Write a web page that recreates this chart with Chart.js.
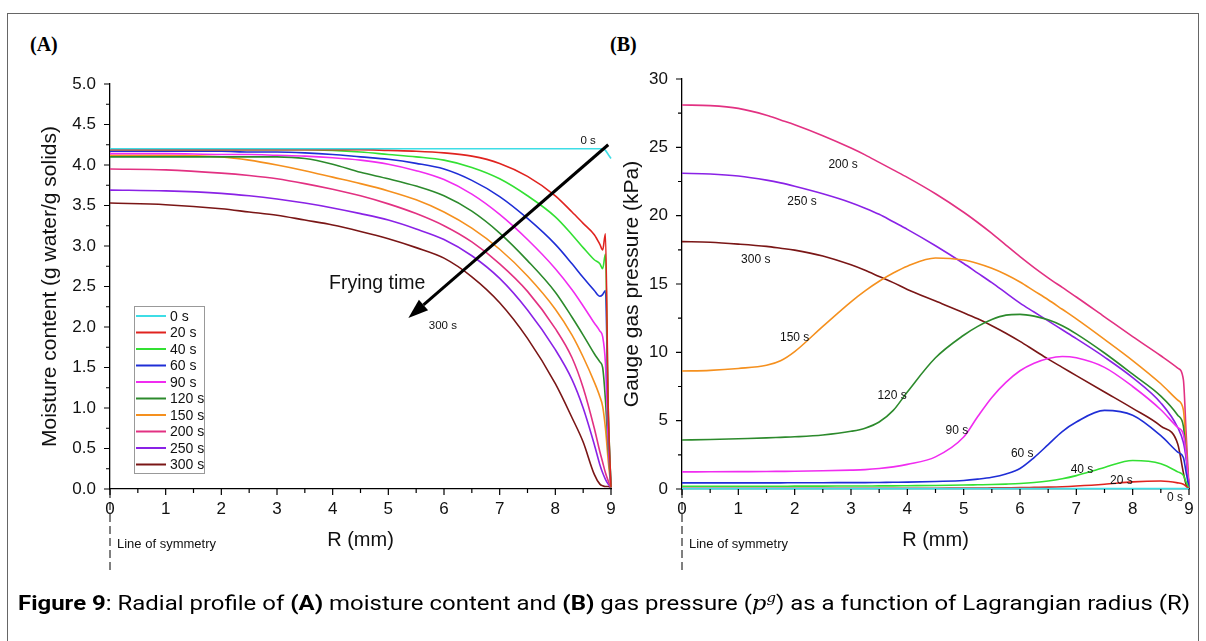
<!DOCTYPE html>
<html>
<head>
<meta charset="utf-8">
<script src="https://cdn.jsdelivr.net/npm/chart.js@4.4.1/dist/chart.umd.min.js"></script>
<style>
  html, body { margin: 0; padding: 0; background: #fff; }
  body { width: 1206px; height: 641px; position: relative; overflow: hidden; }
  #frame { position: absolute; left: 7px; top: 13px; width: 1192px; height: 700px; border: 1.5px solid #666; box-sizing: border-box; }
  .tag { position: absolute; top: 33px; font-family: "Liberation Serif", "Times New Roman", serif; font-weight: bold; font-size: 20px; color: #000; }
  canvas { position: absolute; top: 0; }
  #chartA { left: 0; }
  #chartB { left: 600px; }
  #caption { position: absolute; left: 18px; top: 590px; font-family: Roboto, "Liberation Sans", sans-serif; font-size: 21px; line-height: 26px; height: 26px; white-space: nowrap; color: #000; transform-origin: left center; }
  #caption b { font-weight: 700; }
  #caption .m { font-family: "DejaVu Serif", "Liberation Serif", serif; font-style: italic; font-size: 20px; }
  #caption sup { font-size: 13px; line-height: 0; vertical-align: 8px; }
</style>
</head>
<body>
<div id="frame"></div>
<div class="tag" style="left:30px">(A)</div>
<div class="tag" style="left:610px">(B)</div>
<canvas id="chartA" width="640" height="641"></canvas>
<canvas id="chartB" width="606" height="641"></canvas>
<div id="caption"><b>Figure 9</b>: Radial profile of <b>(A)</b> moisture content and <b>(B)</b> gas pressure (<span class="m">p<sup>g</sup></span>) as a function of Lagrangian radius (R)</div>

<script>
// ---- data ----
const timeLabels = ['0 s', '20 s', '40 s', '60 s', '90 s', '120 s', '150 s', '200 s', '250 s', '300 s'];
const seriesColors = ['#3EDDE6', '#E0231F', '#33E033', '#1F2ED6', '#F02CF0', '#2C8A2C', '#F5901E', '#E23182', '#8A22E6', '#7A1616'];

const rTicks = [0, 1, 2, 3, 4, 5, 6, 7, 8, 9];
const moistTicks = [0, 0.5, 1, 1.5, 2, 2.5, 3, 3.5, 4, 4.5, 5];
const presTicks = [0, 5, 10, 15, 20, 25, 30];

// (A) moisture content, g water / g solids
const radiusA = [0, 1, 2, 2.5, 3, 3.5, 4, 4.5, 5, 5.5, 6, 6.5, 7, 7.5, 8, 8.3, 8.5, 8.7, 8.8, 8.85, 8.9, 8.95, 9];
const moist0   = [4.20, 4.20, 4.20, 4.20, 4.20, 4.20, 4.20, 4.20, 4.20, 4.20, 4.20, 4.20, 4.20, 4.20, 4.20, 4.20, 4.20, 4.20, 4.20, 4.20, 4.18, 4.13, 4.08];
const moist20  = [4.19, 4.19, 4.19, 4.19, 4.19, 4.19, 4.19, 4.19, 4.18, 4.17, 4.15, 4.11, 4.02, 3.86, 3.62, 3.42, 3.28, 3.14, 3.02, 2.95, 3.15, 1.00, 0.02];
const moist40  = [4.19, 4.19, 4.19, 4.19, 4.19, 4.19, 4.18, 4.16, 4.13, 4.10, 4.06, 3.97, 3.83, 3.62, 3.36, 3.14, 2.98, 2.83, 2.78, 2.72, 2.90, 1.00, 0.02];
const moist60  = [4.17, 4.17, 4.17, 4.16, 4.16, 4.15, 4.13, 4.10, 4.07, 4.02, 3.95, 3.81, 3.61, 3.34, 3.02, 2.78, 2.61, 2.45, 2.38, 2.40, 2.45, 0.90, 0.02];
const moist90  = [4.14, 4.14, 4.13, 4.13, 4.12, 4.11, 4.09, 4.06, 4.01, 3.93, 3.82, 3.64, 3.39, 3.08, 2.72, 2.46, 2.26, 2.05, 1.95, 1.88, 1.55, 0.60, 0.02];
const moist120 = [4.10, 4.10, 4.10, 4.10, 4.10, 4.08, 4.01, 3.91, 3.83, 3.74, 3.62, 3.43, 3.16, 2.82, 2.43, 2.12, 1.90, 1.67, 1.57, 1.50, 1.10, 0.50, 0.02];
const moist150 = [4.12, 4.12, 4.10, 4.06, 4.00, 3.93, 3.85, 3.77, 3.68, 3.57, 3.42, 3.22, 2.96, 2.63, 2.22, 1.90, 1.63, 1.32, 1.14, 1.02, 0.75, 0.35, 0.02];
const moist200 = [3.95, 3.94, 3.90, 3.87, 3.83, 3.77, 3.70, 3.62, 3.52, 3.40, 3.25, 3.05, 2.78, 2.44, 1.98, 1.62, 1.25, 0.75, 0.46, 0.33, 0.20, 0.10, 0.02];
const moist250 = [3.69, 3.68, 3.65, 3.62, 3.58, 3.53, 3.47, 3.40, 3.32, 3.21, 3.08, 2.88, 2.60, 2.21, 1.72, 1.35, 1.00, 0.55, 0.30, 0.20, 0.12, 0.06, 0.02];
const moist300 = [3.53, 3.51, 3.46, 3.42, 3.38, 3.32, 3.26, 3.18, 3.09, 2.98, 2.85, 2.62, 2.30, 1.86, 1.30, 0.88, 0.58, 0.18, 0.06, 0.04, 0.03, 0.03, 0.02];

// (B) gauge gas pressure, kPa
const radiusB = [0, 0.5, 1, 1.5, 1.75, 2, 2.5, 3, 3.25, 3.5, 3.75, 4, 4.5, 5, 5.25, 5.5, 5.75, 6, 6.25, 6.5, 6.75, 7, 7.5, 8, 8.5, 8.8, 8.9, 8.95, 9];
const pres0   = [0.03, 0.03, 0.03, 0.03, 0.03, 0.03, 0.03, 0.03, 0.03, 0.03, 0.03, 0.03, 0.03, 0.03, 0.03, 0.03, 0.03, 0.03, 0.03, 0.03, 0.03, 0.03, 0.03, 0.03, 0.03, 0.03, 0.03, 0.03, 0.00];
const pres20  = [0.06, 0.06, 0.06, 0.06, 0.06, 0.06, 0.06, 0.06, 0.06, 0.06, 0.06, 0.06, 0.06, 0.07, 0.07, 0.08, 0.09, 0.10, 0.12, 0.14, 0.17, 0.22, 0.35, 0.52, 0.58, 0.45, 0.35, 0.20, 0.02];
const pres40  = [0.20, 0.20, 0.20, 0.20, 0.20, 0.21, 0.21, 0.22, 0.22, 0.23, 0.23, 0.24, 0.26, 0.29, 0.31, 0.33, 0.36, 0.40, 0.47, 0.58, 0.75, 0.98, 1.58, 2.08, 1.85, 1.25, 1.00, 0.50, 0.05];
const pres60  = [0.45, 0.45, 0.45, 0.45, 0.45, 0.46, 0.46, 0.47, 0.47, 0.48, 0.49, 0.50, 0.55, 0.62, 0.72, 0.86, 1.10, 1.50, 2.30, 3.25, 4.20, 4.90, 5.75, 5.40, 3.90, 2.70, 2.30, 1.20, 0.10];
const pres90  = [1.25, 1.26, 1.27, 1.28, 1.29, 1.30, 1.33, 1.38, 1.42, 1.50, 1.62, 1.80, 2.35, 3.80, 5.30, 6.70, 7.80, 8.65, 9.20, 9.55, 9.70, 9.60, 8.90, 7.50, 5.80, 4.50, 4.00, 2.50, 0.10];
const pres120 = [3.58, 3.62, 3.68, 3.74, 3.78, 3.82, 3.95, 4.22, 4.45, 4.90, 5.75, 7.10, 9.60, 11.25, 11.90, 12.40, 12.72, 12.78, 12.65, 12.38, 11.95, 11.35, 9.95, 8.40, 6.80, 5.40, 4.60, 2.50, 0.10];
const pres150 = [8.63, 8.68, 8.82, 9.05, 9.38, 10.05, 11.90, 13.70, 14.50, 15.20, 15.80, 16.30, 16.90, 16.75, 16.50, 16.15, 15.70, 15.15, 14.50, 13.85, 13.15, 12.45, 10.95, 9.40, 7.70, 6.50, 5.80, 3.00, 0.10];
const pres200 = [28.10, 28.05, 27.85, 27.35, 27.00, 26.65, 25.85, 24.95, 24.45, 23.90, 23.35, 22.80, 21.60, 20.25, 19.50, 18.70, 17.85, 17.00, 16.20, 15.45, 14.75, 14.05, 12.60, 11.15, 9.75, 8.85, 8.00, 4.00, 0.10];
const pres250 = [23.10, 23.05, 22.90, 22.60, 22.40, 22.15, 21.60, 20.95, 20.55, 20.10, 19.55, 19.00, 17.80, 16.50, 15.80, 15.10, 14.35, 13.60, 12.95, 12.30, 11.65, 11.00, 9.65, 8.15, 6.30, 4.50, 3.40, 2.20, 0.30];
const pres300 = [18.10, 18.05, 17.92, 17.75, 17.62, 17.48, 17.05, 16.40, 16.00, 15.55, 15.10, 14.60, 13.75, 12.90, 12.45, 11.95, 11.40, 10.80, 10.15, 9.50, 8.90, 8.30, 7.10, 5.90, 4.60, 3.30, 1.20, 0.30, 0.10];

// ---- drawing ----
const FONT = '"Liberation Sans", Arial, sans-serif';
const INK = '#111';

// outward major + minor ticks, Origin style
const tickMarks = {
  id: 'tickMarks',
  afterDraw(chart, args, o) {
    const { ctx, chartArea: { left, bottom }, scales: { x, y } } = chart;
    ctx.save();
    ctx.strokeStyle = '#000';
    ctx.lineWidth = 1.2;
    ctx.beginPath();
    for (let v = x.min; v <= x.max + 1e-9; v += o.xMinor) {
      const px = x.getPixelForValue(v);
      const major = Math.abs(v / o.xMajor - Math.round(v / o.xMajor)) < 1e-6;
      ctx.moveTo(px, bottom);
      ctx.lineTo(px, bottom + (major ? 6 : 4));
    }
    for (let v = y.min; v <= y.max + 1e-9; v += o.yMinor) {
      const py = y.getPixelForValue(v);
      const major = Math.abs(v / o.yMajor - Math.round(v / o.yMajor)) < 1e-6;
      ctx.moveTo(left, py);
      ctx.lineTo(left - (major ? 6 : 4), py);
    }
    ctx.stroke();
    ctx.restore();
  }
};

// dashed line of symmetry at R = 0
const symmetry = {
  id: 'symmetry',
  afterDraw(chart) {
    const { ctx, chartArea: { bottom }, scales: { x } } = chart;
    const px = x.getPixelForValue(0);
    ctx.save();
    ctx.strokeStyle = '#000';
    ctx.lineWidth = 1;
    ctx.setLineDash([8, 4]);
    ctx.beginPath();
    ctx.moveTo(px, bottom + 1);
    ctx.lineTo(px, bottom + 82);
    ctx.stroke();
    ctx.fillStyle = INK;
    ctx.font = '13px ' + FONT;
    ctx.textBaseline = 'middle';
    ctx.fillText('Line of symmetry', px + 7, bottom + 55);
    ctx.restore();
  }
};

// text labels placed in data units
const notes = {
  id: 'notes',
  afterDatasetsDraw(chart, args, o) {
    const { ctx, scales: { x, y } } = chart;
    ctx.save();
    ctx.fillStyle = INK;
    ctx.textAlign = 'center';
    ctx.textBaseline = 'middle';
    (o.items || []).forEach(n => {
      ctx.font = (n.size || 12) + 'px ' + FONT;
      ctx.fillText(n.text, x.getPixelForValue(n.r), y.getPixelForValue(n.v));
    });
    if (o.arrow) {
      const a = o.arrow;
      const x0 = x.getPixelForValue(a.from[0]), y0 = y.getPixelForValue(a.from[1]);
      const x1 = x.getPixelForValue(a.to[0]), y1 = y.getPixelForValue(a.to[1]);
      const ang = Math.atan2(y1 - y0, x1 - x0);
      const hl = 20, hw = 7;
      const bx = x1 - hl * Math.cos(ang), by = y1 - hl * Math.sin(ang);
      ctx.strokeStyle = '#000';
      ctx.lineWidth = 3;
      ctx.beginPath();
      ctx.moveTo(x0, y0);
      ctx.lineTo(bx, by);
      ctx.stroke();
      ctx.fillStyle = '#000';
      ctx.beginPath();
      ctx.moveTo(x1, y1);
      ctx.lineTo(bx + hw * Math.sin(ang), by - hw * Math.cos(ang));
      ctx.lineTo(bx - hw * Math.sin(ang), by + hw * Math.cos(ang));
      ctx.closePath();
      ctx.fill();
    }
    ctx.restore();
  }
};

// boxed legend inside panel A
const boxLegend = {
  id: 'boxLegend',
  afterDraw(chart, args, o) {
    if (!o.show) return;
    const { ctx, chartArea: { left } } = chart;
    const bx = left + o.dx, by = o.top, rowH = 16.5;
    const n = chart.data.datasets.length;
    ctx.save();
    ctx.fillStyle = '#fff';
    ctx.fillRect(bx, by, 70, n * rowH + 2);
    ctx.strokeStyle = '#999';
    ctx.lineWidth = 1;
    ctx.strokeRect(bx + 0.5, by + 0.5, 70, n * rowH + 2);
    ctx.font = '14px ' + FONT;
    ctx.textBaseline = 'middle';
    chart.data.datasets.forEach((ds, i) => {
      const cy = by + 10 + i * rowH;
      ctx.strokeStyle = ds.borderColor;
      ctx.lineWidth = 2;
      ctx.beginPath();
      ctx.moveTo(bx + 2, cy);
      ctx.lineTo(bx + 32, cy);
      ctx.stroke();
      ctx.fillStyle = INK;
      ctx.fillText(ds.label, bx + 36, cy + 1);
    });
    ctx.restore();
  }
};

function buildChart(id, cfg) {
  return new Chart(document.getElementById(id), {
    type: 'line',
    data: {
      datasets: cfg.series.map((vals, i) => ({
        label: timeLabels[i],
        data: cfg.radius.map((r, k) => ({ x: r, y: vals[k] })),
        borderColor: seriesColors[i],
        borderWidth: 1.6,
        pointRadius: 0,
        cubicInterpolationMode: 'monotone',
        clip: 4
      }))
    },
    options: {
      responsive: false,
      animation: false,
      events: [],
      layout: { padding: cfg.padding },
      plugins: {
        legend: { display: false },
        tooltip: { enabled: false },
        tickMarks: cfg.ticks,
        notes: cfg.notes,
        boxLegend: { show: cfg.legend, dx: 24, top: 306 }
      },
      scales: {
        x: {
          type: 'linear', min: 0, max: 9,
          afterBuildTicks: s => { s.ticks = rTicks.map(v => ({ value: v })); },
          afterFit: s => { s.height = 70; },
          grid: { drawOnChartArea: false, drawTicks: false },
          border: { color: '#000', width: 1.3 },
          ticks: { color: INK, font: { family: FONT, size: 17 }, padding: 10, maxRotation: 0 },
          title: { display: true, text: 'R (mm)', color: INK, font: { family: FONT, size: 20 }, padding: { top: 0, bottom: 7 } }
        },
        y: {
          min: 0, max: cfg.yMax,
          afterBuildTicks: s => { s.ticks = cfg.yTicks.map(v => ({ value: v })); },
          afterFit: s => { s.width = cfg.yWidth; },
          grid: { drawOnChartArea: false, drawTicks: false },
          border: { color: '#000', width: 1.3 },
          ticks: { color: INK, font: { family: FONT, size: 17 }, padding: 14, callback: cfg.yFormat },
          title: { display: true, text: cfg.yTitle, color: INK, font: { family: FONT, size: 21 }, padding: { top: cfg.titlePad, bottom: 0 } }
        }
      }
    },
    plugins: [tickMarks, symmetry, notes, boxLegend]
  });
}

buildChart('chartA', {
  radius: radiusA,
  series: [moist0, moist20, moist40, moist60, moist90, moist120, moist150, moist200, moist250, moist300],
  padding: { left: 0, top: 84, right: 29, bottom: 82 },
  yWidth: 110, yMax: 5, yTicks: moistTicks, titlePad: 38,
  yFormat: v => v.toFixed(1),
  yTitle: 'Moisture content (g water/g solids)',
  ticks: { xMinor: 0.5, xMajor: 1, yMinor: 0.25, yMajor: 0.5 },
  legend: true,
  notes: {
    items: [
      { text: '0 s', r: 8.59, v: 4.30, size: 11.5 },
      { text: '300 s', r: 5.98, v: 2.01, size: 11.5 },
      { text: 'Frying time', r: 4.8, v: 2.54, size: 19.5 }
    ],
    arrow: { from: [8.95, 4.25], to: [5.36, 2.11] }
  }
});

buildChart('chartB', {
  radius: radiusB,
  series: [pres0, pres20, pres40, pres60, pres90, pres120, pres150, pres200, pres250, pres300],
  padding: { left: 0, top: 79, right: 17, bottom: 82 },
  yWidth: 82, yMax: 30, yTicks: presTicks, titlePad: 20,
  yFormat: v => String(v),
  yTitle: 'Gauge gas pressure (kPa)',
  ticks: { xMinor: 0.5, xMajor: 1, yMinor: 2.5, yMajor: 5 },
  legend: false,
  notes: {
    items: [
      { text: '200 s', r: 2.86, v: 23.7 },
      { text: '250 s', r: 2.13, v: 21.0 },
      { text: '300 s', r: 1.31, v: 16.8 },
      { text: '150 s', r: 2.0, v: 11.05 },
      { text: '120 s', r: 3.73, v: 6.8 },
      { text: '90 s', r: 4.88, v: 4.24 },
      { text: '60 s', r: 6.04, v: 2.56 },
      { text: '40 s', r: 7.1, v: 1.4 },
      { text: '20 s', r: 7.8, v: 0.6 },
      { text: '0 s', r: 8.75, v: -0.6 }
    ]
  }
});

document.fonts.ready.then(() => {
  const cap = document.getElementById('caption');
  const w = cap.getBoundingClientRect().width;
  cap.style.transform = 'scaleX(' + (1172 / w) + ')';
});
</script>
</body>
</html>
